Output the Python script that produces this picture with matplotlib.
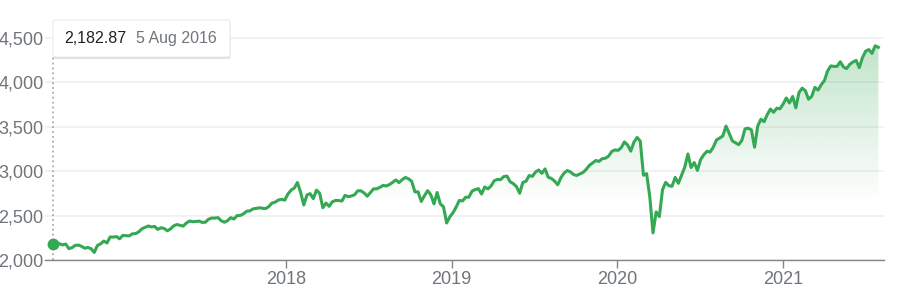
"""S&P 500 weekly closes, Aug 2016 - Jul 2021, Google-finance style area chart."""

import matplotlib
matplotlib.use("Agg")
import matplotlib.pyplot as plt  # noqa: E402
import matplotlib.dates as mdates  # noqa: E402
from matplotlib.patches import FancyBboxPatch  # noqa: E402
import numpy as np  # noqa: E402
import pandas as pd  # noqa: E402

plt.rcParams["font.family"] = ["Liberation Sans", "DejaVu Sans"]

# weekly closes (Fridays)
close_2016 = [2182.87, 2184.05, 2183.87, 2169.04, 2179.98, 2127.81, 2139.16, 2164.69,
              2168.27, 2153.74, 2132.98, 2141.16, 2126.41, 2085.18, 2164.45, 2181.90,
              2213.35, 2191.95, 2259.53, 2258.07, 2263.79, 2238.83]
close_2017 = [2276.98, 2274.64, 2271.31, 2294.69, 2297.42, 2316.10, 2351.16, 2367.34,
              2383.12, 2372.60, 2378.25, 2343.98, 2362.72, 2355.54, 2328.95, 2348.69,
              2384.20, 2399.29, 2390.90, 2381.73, 2415.82, 2439.07, 2431.77, 2433.15,
              2438.30, 2423.41, 2425.18, 2459.27, 2472.54, 2472.10, 2476.83, 2441.32,
              2425.55, 2443.05, 2476.55, 2461.43, 2500.23, 2502.22, 2519.36, 2549.33,
              2553.17, 2575.21, 2581.07, 2587.84, 2582.30, 2578.85, 2602.42, 2642.22,
              2651.50, 2675.81, 2683.34, 2673.61]
close_2018 = [2743.15, 2786.24, 2810.30, 2872.87, 2762.13, 2619.55, 2732.22, 2747.30,
              2691.25, 2786.57, 2752.01, 2588.26, 2640.87, 2604.47, 2656.30, 2670.14,
              2669.91, 2663.42, 2727.72, 2712.97, 2721.33, 2734.62, 2779.03, 2779.42,
              2754.88, 2718.37, 2759.82, 2801.31, 2801.83, 2818.82, 2840.35, 2833.28,
              2850.13, 2874.69, 2901.52, 2871.68, 2904.98, 2929.67, 2913.98, 2885.57,
              2767.13, 2767.78, 2658.69, 2723.06, 2781.01, 2736.27, 2632.56, 2760.17,
              2633.08, 2599.95, 2416.62, 2485.74]
close_2019 = [2531.94, 2596.26, 2670.71, 2664.76, 2706.53, 2707.88, 2775.60, 2792.67,
              2803.69, 2743.07, 2822.48, 2800.71, 2834.40, 2892.74, 2907.41, 2905.03,
              2939.88, 2945.64, 2881.40, 2859.53, 2826.06, 2752.06, 2873.34, 2886.98,
              2950.46, 2941.76, 2990.41, 3013.77, 2976.61, 3025.86, 2932.05, 2918.65,
              2888.68, 2847.11, 2926.46, 2978.71, 3007.39, 2992.07, 2961.79, 2952.01,
              2970.27, 2986.20, 3022.55, 3066.91, 3093.08, 3120.46, 3110.29, 3140.98,
              3145.91, 3168.80, 3221.22, 3240.02]
close_2020 = [3234.85, 3265.35, 3329.62, 3295.47, 3225.52, 3327.71, 3380.16, 3337.75,
              2954.22, 2972.37, 2711.02, 2304.92, 2541.47, 2488.65, 2789.82, 2874.56,
              2836.74, 2830.71, 2929.80, 2863.70, 2955.45, 3044.31, 3193.93, 3041.31,
              3097.74, 3009.05, 3130.01, 3185.04, 3224.73, 3215.63, 3271.12, 3351.28,
              3372.85, 3397.16, 3508.01, 3426.96, 3340.97, 3319.47, 3298.46, 3348.44,
              3477.13, 3483.81, 3465.39, 3269.96, 3509.44, 3585.15, 3557.54, 3638.35,
              3699.12, 3663.46, 3709.41, 3703.06, 3756.07]
close_2021 = [3824.68, 3768.25, 3841.47, 3714.24, 3886.83, 3934.83, 3906.71, 3811.15,
              3841.94, 3943.34, 3913.10, 3974.54, 4019.87, 4128.80, 4185.47, 4180.17,
              4181.17, 4232.60, 4173.85, 4155.86, 4204.11, 4229.89, 4247.44, 4166.45,
              4280.70, 4352.34, 4369.55, 4327.16, 4411.79, 4395.26]

start_date = "2016-08-05"
y_ticks = [2000, 2500, 3000, 3500, 4000, 4500]
x_ticks = ["2018-01-01", "2019-01-01", "2020-01-01", "2021-01-01"]
x_labels = ["2018", "2019", "2020", "2021"]
tip_value = "2,182.87"
tip_date = "5 Aug 2016"

GREEN = "#34a853"
GREY = "#70757a"

values = np.array(close_2016 + close_2017 + close_2018 + close_2019 + close_2020 + close_2021)
dates = pd.date_range(start_date, periods=len(values), freq="W-FRI")
x = mdates.date2num(dates)

W, H = 902, 300
fig = plt.figure(figsize=(W / 100, H / 100), dpi=100)
ax_l, ax_r, ax_b, ax_t = 45, 884, 260, 20
ax = fig.add_axes([ax_l / W, 1 - ax_b / H, (ax_r - ax_l) / W, (ax_b - ax_t) / H])

# x scale: ~0.4535 px/day, start date sits at 53 px
px_per_day = 0.4535
x0 = x[0] - (53 - ax_l) / px_per_day
x1 = x0 + (ax_r - ax_l) / px_per_day
ymin = 2000
ymax = ymin + (ax_b - ax_t) * 500 / 44.4
ax.set_xlim(x0, x1)
ax.set_ylim(ymin, ymax)

# gradient fill under the line
fill = ax.fill_between(x, values, ymin, color="none", lw=0)
grad = np.zeros((200, 1, 4))
grad[..., :3] = matplotlib.colors.to_rgb(GREEN)
yy = np.linspace(ymax, ymin, 200)
grad[:, 0, 3] = np.clip((yy - 2650) / (4500 - 2650), 0, 1) * 0.32
img = ax.imshow(grad, extent=(x[0], x[-1], ymin, ymax), aspect="auto",
                origin="upper", zorder=1, interpolation="bilinear")
img.set_clip_path(fill.get_paths()[0], transform=ax.transData)

ax.plot(x, values, color=GREEN, lw=2.2, zorder=3)

# hover marker + dotted guide
ax.plot([x[0], x[0]], [0, (ax_b - 57) / (ax_b - ax_t)], transform=ax.get_xaxis_transform(),
        color="#9e9e9e", lw=1.1, ls=(0, (1.2, 2.0)), zorder=2, clip_on=False)
ax.plot(x[0], values[0], "o", color=GREEN, ms=7.5, zorder=4, clip_on=False)

ax.set_yticks(y_ticks)
ax.set_yticklabels([f"{v:,}" for v in y_ticks])
ax.set_xticks(mdates.date2num(pd.to_datetime(x_ticks)))
ax.set_xticklabels(x_labels)
ax.grid(axis="y", color="#f1f1f1", lw=1.3, zorder=0)
ax.tick_params(axis="y", length=0, pad=1, labelsize=13, labelcolor=GREY)
ax.tick_params(axis="x", length=6, width=1, color="#80868b", pad=2, labelsize=13,
               labelcolor=GREY)
for s in ("top", "right", "left"):
    ax.spines[s].set_visible(False)
ax.spines["bottom"].set_color("#80868b")
ax.spines["bottom"].set_linewidth(1)
ax.set_axisbelow(True)

# tooltip box
bx, by, bw, bh = 53, 20, 177, 37
shadow = FancyBboxPatch(((bx + 0.5) / W, 1 - (by + bh + 2) / H), bw / W, bh / H,
                        boxstyle="round,pad=0,rounding_size=0.004",
                        transform=fig.transFigure, fc="#000000", alpha=0.12, ec="none")
box = FancyBboxPatch((bx / W, 1 - (by + bh) / H), bw / W, bh / H,
                     boxstyle="round,pad=0,rounding_size=0.004",
                     transform=fig.transFigure, fc="white", ec="#e6e6e6", lw=0.6)
fig.add_artist(shadow)
fig.add_artist(box)
fig.text(64 / W, 1 - 38.5 / H, tip_value, color="#202124", fontsize=11.5, va="center")
fig.text(136 / W, 1 - 38.5 / H, tip_date, color=GREY, fontsize=11.5, va="center")

fig.savefig("out.png", dpi=100)
